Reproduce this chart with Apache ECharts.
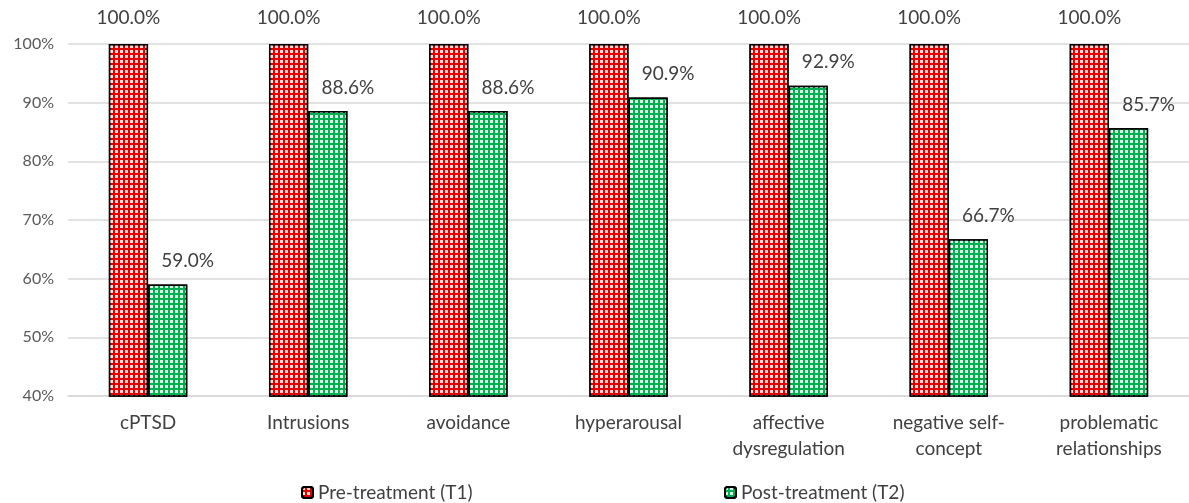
<!DOCTYPE html>
<html>
<head>
<meta charset="utf-8">
<script src="https://cdn.jsdelivr.net/npm/echarts@6/dist/echarts.min.js"></script>
<style>html,body{margin:0;padding:0;background:#fff}#c{width:1189px;height:503px}</style>
</head>
<body>
<div id="c"></div>
<script>
const categories = ['cPTSD', 'Intrusions', 'avoidance', 'hyperarousal', 'affective\ndysregulation', 'negative self-\nconcept', 'problematic\nrelationships'];
const preTreatment = [100.0, 100.0, 100.0, 100.0, 100.0, 100.0, 100.0];
const postTreatment = [59.0, 88.6, 88.6, 90.9, 92.9, 66.7, 85.7];
const seriesNames = ['Pre-treatment (T1)', 'Post-treatment (T2)'];

const decal = {
  symbol: 'rect', symbolSize: 1, color: 'rgba(255,255,255,0.85)',
  dashArrayX: [3, 2], dashArrayY: [3, 2], rotation: 0, maxTileWidth: 64, maxTileHeight: 64
};

const chart = echarts.init(document.getElementById('c'));
const fontFamily = 'Lato, "Open Sans", sans-serif';
const labelCfg = {
  show: true, position: 'top', distance: 17,
  formatter: p => p.value.toFixed(1) + '%',
  color: '#404040', fontSize: 19, fontFamily: fontFamily
};
const legendText = { color: '#404040', fontSize: 19, fontFamily: fontFamily };
chart.setOption({
  animation: false,
  grid: { left: 68, right: -4, top: 44, bottom: 107, containLabel: false },
  legend: [
    { data: [seriesNames[0]], left: 296, top: 478, itemWidth: 11, itemHeight: 11, itemGap: 5,
      textStyle: legendText },
    { data: [seriesNames[1]], left: 719, top: 478, itemWidth: 11, itemHeight: 11, itemGap: 5,
      textStyle: legendText }
  ],
  xAxis: {
    type: 'category', data: categories,
    axisLine: { lineStyle: { color: '#d9d9d9', width: 1.5 } },
    axisTick: { show: false },
    axisLabel: { color: '#404040', fontSize: 19, fontFamily: fontFamily, margin: 14, lineHeight: 26, interval: 0 }
  },
  yAxis: {
    type: 'value', min: 40, max: 100, interval: 10,
    axisLabel: { formatter: '{value}%', color: '#595959', fontSize: 16, fontFamily: fontFamily, margin: 14 },
    axisLine: { show: false }, axisTick: { show: false },
    splitLine: { lineStyle: { color: '#d9d9d9', width: 1.5 } }
  },
  series: [
    { name: seriesNames[0], type: 'bar', data: preTreatment, barGap: '0%', barCategoryGap: '51%',
      itemStyle: { color: '#e00000', borderColor: '#000', borderWidth: 1.5, decal: decal }, label: labelCfg },
    { name: seriesNames[1], type: 'bar', data: postTreatment,
      itemStyle: { color: '#00b050', borderColor: '#000', borderWidth: 1.5, decal: decal },
      label: Object.assign({}, labelCfg, { offset: [20, 0], distance: 14 }) }
  ]
});
</script>
</body>
</html>
